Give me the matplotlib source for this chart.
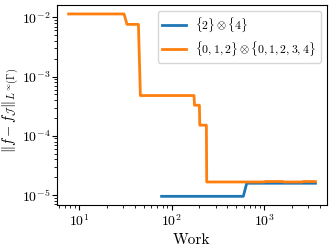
import numpy as np
import matplotlib
matplotlib.use("Agg")
import matplotlib.pyplot as plt

plt.rcParams['font.family'] = 'cmr10'
plt.rcParams['mathtext.fontset'] = 'cm'
plt.rcParams['axes.formatter.use_mathtext'] = True
plt.rcParams['axes.unicode_minus'] = False

# {2} x {4}
work_a = [78, 597, 650, 3600]
err_a = [9.5e-6, 9.5e-6, 1.58e-5, 1.58e-5]

# {0,1,2} x {0,1,2,3,4}
work_b = [7.7, 30.6, 33, 43.8, 46, 175, 177, 200, 202, 238, 240, 1000, 1020, 1600, 1650, 2600, 2650, 3600]
err_b = [1.14e-2, 1.14e-2, 7.6e-3, 7.6e-3, 4.78e-4, 4.78e-4, 3.28e-4, 3.28e-4, 1.51e-4, 1.51e-4, 1.66e-5,
         1.66e-5, 1.69e-5, 1.69e-5, 1.66e-5, 1.66e-5, 1.69e-5, 1.69e-5]

labels = [r'$\{2\}\otimes\{4\}$', r'$\{0,1,2\}\otimes\{0,1,2,3,4\}$']

fig = plt.figure(figsize=(3.32, 2.46), dpi=100)
ax = fig.add_axes([0.172, 0.168, 0.812, 0.812])
ax.plot(work_a, err_a, color='tab:blue', lw=2, label=labels[0])
ax.plot(work_b, err_b, color='tab:orange', lw=2, label=labels[1])
ax.set_xscale('log')
ax.set_yscale('log')
ax.set_xlim(5.78, 4764)
ax.set_ylim(6.87e-6, 1.62e-2)
ax.set_xlabel('Work', fontsize=11)
ax.set_ylabel(r'$\|f-f_{\mathcal{J}}\|_{L^\infty(\Gamma)}$', fontsize=10.5)
ax.xaxis.set_label_coords(0.497, -0.142)
ax.yaxis.set_label_coords(-0.135, 0.47)
ax.tick_params(labelsize=10)
ax.tick_params(axis='x', which='major', pad=2.5)
ax.tick_params(axis='y', which='major', pad=1.5)
ax.legend(loc='upper right', fontsize=8.5)

fig.savefig('out.png', dpi=100)
